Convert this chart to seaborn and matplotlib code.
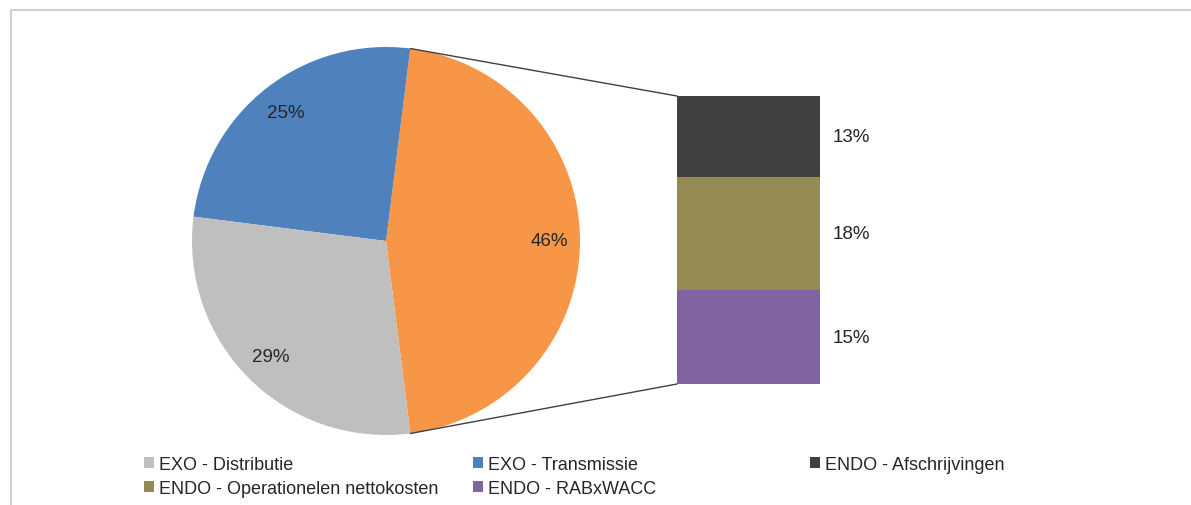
import matplotlib
matplotlib.use("Agg")
import matplotlib.pyplot as plt
import seaborn as sns
from matplotlib.patches import Patch, Rectangle, ConnectionPatch
import numpy as np

# ---- data ----
pie_labels = ["ENDO", "EXO - Transmissie", "EXO - Distributie"]
pie_values = [46, 25, 29]
bar_labels = ["ENDO - RABxWACC", "ENDO - Operationelen nettokosten", "ENDO - Afschrijvingen"]
bar_values = [15, 18, 13]

colors = {
    "ENDO": "#F79646",
    "EXO - Transmissie": "#4F81BD",
    "EXO - Distributie": "#BFBFBF",
    "ENDO - RABxWACC": "#8064A2",
    "ENDO - Operationelen nettokosten": "#948A54",
    "ENDO - Afschrijvingen": "#404040",
}

sns.set_theme(style="white")
plt.rcParams['font.family'] = ['Liberation Sans', 'DejaVu Sans']

W, H = 1191, 506
fig = plt.figure(figsize=(W / 100, H / 100), dpi=100)
fig.patch.set_facecolor("white")

def px_axes(x0, y0, x1, y1):
    return fig.add_axes([x0 / W, 1 - y1 / H, (x1 - x0) / W, (y1 - y0) / H])

# border
fig.patches.append(Rectangle((11 / W, -0.2), 1.2, 1 - 11 / H + 0.2, transform=fig.transFigure,
                             fill=False, edgecolor="#D0D0D0", linewidth=1.5))

# ---- pie ----
ax_pie = px_axes(192, 48, 580, 436)
half = pie_values[0] / 100 * 360 / 2
wedges, texts, autotexts = ax_pie.pie(
    pie_values, colors=[colors[l] for l in pie_labels], startangle=-half,
    counterclock=True, autopct=lambda p: f"{p:.0f}%", pctdistance=0.84,
    textprops=dict(fontsize=13.5, color="#262626"), radius=1,
    wedgeprops=dict(linewidth=0))
ax_pie.set_xlim(-1, 1)
ax_pie.set_ylim(-1, 1)
ax_pie.set_aspect("auto")
ax_pie.axis("off")

# ---- bar ----
ax_bar = px_axes(677, 97, 820, 385)
total = sum(bar_values)
bottom = 0
for lab, v in zip(bar_labels, bar_values):
    ax_bar.bar(0, v, width=1, bottom=bottom, color=colors[lab], align="edge", linewidth=0)
    ax_bar.text(1.09, bottom + v / 2, f"{v}%", va="center", ha="left", fontsize=13.5,
                color="#262626", clip_on=False)
    bottom += v
ax_bar.set_xlim(0, 1)
ax_bar.set_ylim(0, total)
ax_bar.axis("off")

# ---- connector lines ----
t = np.deg2rad(half)
for yb, sgn in [(total, 1), (0, -1)]:
    con = ConnectionPatch(xyA=(np.cos(t), sgn * np.sin(t)), coordsA=ax_pie.transData,
                          xyB=(0, yb), coordsB=ax_bar.transData,
                          color="#404040", linewidth=1)
    fig.add_artist(con)

# ---- legend (three columns positioned separately) ----
columns = [(144, ["EXO - Distributie", "ENDO - Operationelen nettokosten"]),
           (473, ["EXO - Transmissie", "ENDO - RABxWACC"]),
           (810, ["ENDO - Afschrijvingen"])]
for x, labs in columns:
    handles = [Patch(facecolor=colors[l], edgecolor="none", label=l) for l in labs]
    fig.legend(handles=handles, loc="upper left", bbox_to_anchor=(x / W, 1 - 457 / H),
               frameon=False, fontsize=13, handlelength=0.55, handleheight=0.55,
               handletextpad=0.3, labelspacing=0.38, borderaxespad=0, borderpad=0,
               labelcolor="#262626")

fig.savefig("out.png", dpi=100, facecolor="white")
